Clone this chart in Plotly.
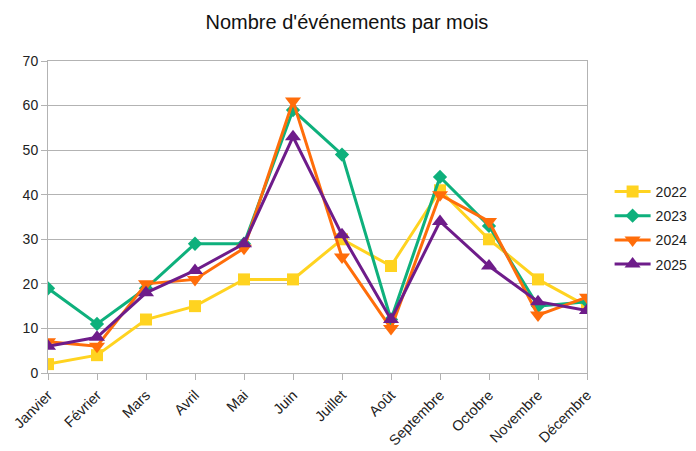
import plotly.graph_objects as go

months = ["Janvier", "Février", "Mars", "Avril", "Mai", "Juin", "Juillet",
          "Août", "Septembre", "Octobre", "Novembre", "Décembre"]
v2022 = [2, 4, 12, 15, 21, 21, 30, 24, 41, 30, 21, 15]
v2023 = [19, 11, 19, 29, 29, 59, 49, 12, 44, 33, 15, 16]
v2024 = [7, 6, 20, 21, 28, 61, 26, 10, 40, 34, 13, 17]
v2025 = [6, 8, 18, 23, 29, 53, 31, 12, 34, 24, 16, 14]

series = [
    ("2022", v2022, "#FFD320", "square", 12),
    ("2023", v2023, "#0EB07C", "diamond", 11),
    ("2024", v2024, "#FF6D0A", "triangle-down", 14),
    ("2025", v2025, "#6E1C8A", "triangle-up", 14),
]

fig = go.Figure()
for name, vals, col, sym, sz in series:
    fig.add_trace(go.Scatter(
        x=months, y=vals, name=name, mode="lines+markers", legendgroup=name,
        line=dict(color=col, width=3),
        marker=dict(symbol=sym, size=sz, color=col),
    ))

fig.update_layout(
    width=696, height=451,
    paper_bgcolor="white", plot_bgcolor="white",
    margin=dict(l=40, r=116, t=53, b=86, pad=0),
    font=dict(family="Liberation Sans, Arial, sans-serif", size=14, color="#222"),
    title=dict(text="Nombre d'événements par mois", x=0.487, xref="container",
               xanchor="center", yref="container", y=0.969, yanchor="middle",
               font=dict(size=20, color="#111")),
    legend=dict(x=1.04, xanchor="left", y=0.465, yanchor="middle",
                font=dict(size=14), tracegroupgap=3, itemwidth=36),
    showlegend=True,
)
fig.update_xaxes(
    type="category", range=[0, 11], showgrid=False, automargin=False,
    showline=True, linecolor="#b3b3b3", linewidth=1, mirror=True,
    ticks="outside", ticklen=6, tickcolor="#b3b3b3",
    tickangle=-45, tickfont=dict(size=14.5), ticklabelstandoff=1,
)
fig.update_yaxes(
    range=[0, 70], dtick=10, showgrid=True, gridcolor="#b3b3b3", gridwidth=1,
    showline=True, linecolor="#b3b3b3", linewidth=1, mirror=True, automargin=False,
    ticks="outside", ticklen=6, tickcolor="#b3b3b3",
    zeroline=False, tickfont=dict(size=14),
)
fig.write_html("out.html")
